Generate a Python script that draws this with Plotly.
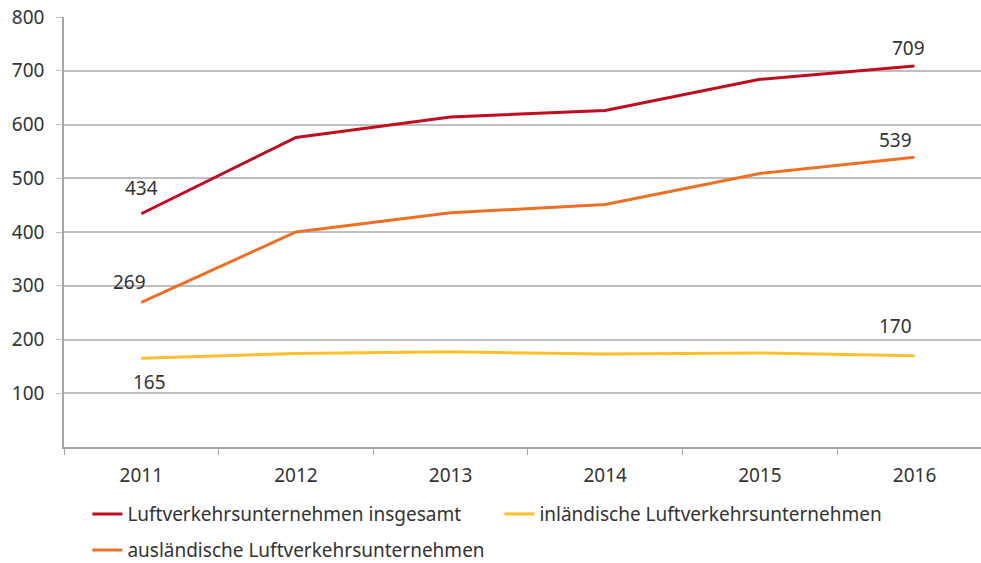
import plotly.graph_objects as go

years = ["2011", "2012", "2013", "2014", "2015", "2016"]
insgesamt = [434, 576, 614, 626, 684, 709]
auslaendisch = [269, 400, 436, 451, 509, 539]
inlaendisch = [165, 174, 177, 173, 175, 170]
y_ticks = [100, 200, 300, 400, 500, 600, 700, 800]

RED = "#C00D1E"
ORANGE = "#F07023"
YELLOW = "#FBC02D"
FONT = "Noto Sans"
TXT = "#333333"
FS = 19

fig = go.Figure()
fig.add_trace(go.Scatter(x=years, y=insgesamt, mode="lines", name="Luftverkehrsunternehmen insgesamt",
                         line=dict(color=RED, width=3), legend="legend"))
fig.add_trace(go.Scatter(x=years, y=inlaendisch, mode="lines", name="inländische Luftverkehrsunternehmen",
                         line=dict(color=YELLOW, width=3), legend="legend"))
fig.add_trace(go.Scatter(x=years, y=auslaendisch, mode="lines", name="ausländische Luftverkehrsunternehmen",
                         line=dict(color=ORANGE, width=3), legend="legend2"))

# data labels (first and last values); x given as category index
labels = [
    (0, insgesamt[0], 0, 26),
    (5, insgesamt[-1], -6, 18),
    (0, auslaendisch[0], -12, 20),
    (5, auslaendisch[-1], -19, 17),
    (0, inlaendisch[0], 8, -24),
    (5, inlaendisch[-1], -19, 30),
]
for x, y, xs, ys in labels:
    fig.add_annotation(x=x, y=y, text=str(y), showarrow=False, xref="x", yref="y",
                       xshift=xs, yshift=ys, font=dict(family=FONT, size=FS, color=TXT))

leg_common = dict(orientation="h", xanchor="left", yanchor="middle",
                  font=dict(family=FONT, size=FS, color=TXT), bgcolor="rgba(0,0,0,0)")
fig.update_layout(
    width=981, height=563,
    margin=dict(l=64, r=0, t=17, b=116, autoexpand=False),
    plot_bgcolor="white", paper_bgcolor="white",
    font=dict(family=FONT, size=FS, color=TXT),
    showlegend=True,
    legend=dict(x=0.0255, y=-0.156, entrywidth=367, **leg_common),
    legend2=dict(x=0.0255, y=-0.24, **leg_common),
)
fig.update_xaxes(type="category", range=[-0.5, 5.43], tickson="boundaries",
                 ticks="outside", ticklen=6, tickcolor="#a6a6a6",
                 showline=True, linecolor="#a6a6a6", linewidth=1.5,
                 showgrid=False, ticklabelstandoff=10, fixedrange=True)
fig.update_yaxes(range=[0, 800], tickvals=y_ticks, ticks="outside", ticklen=6,
                 tickcolor="#bfbfbf", showline=True, linecolor="#a6a6a6", linewidth=1.5,
                 gridcolor="#bfbfbf", gridwidth=1.5, zeroline=False,
                 ticklabelstandoff=8, ticklabeloverflow="allow")

fig.write_html("out.html", config={"displayModeBar": False},
               post_script="document.body.style.margin='0';document.body.style.overflow='hidden';")
